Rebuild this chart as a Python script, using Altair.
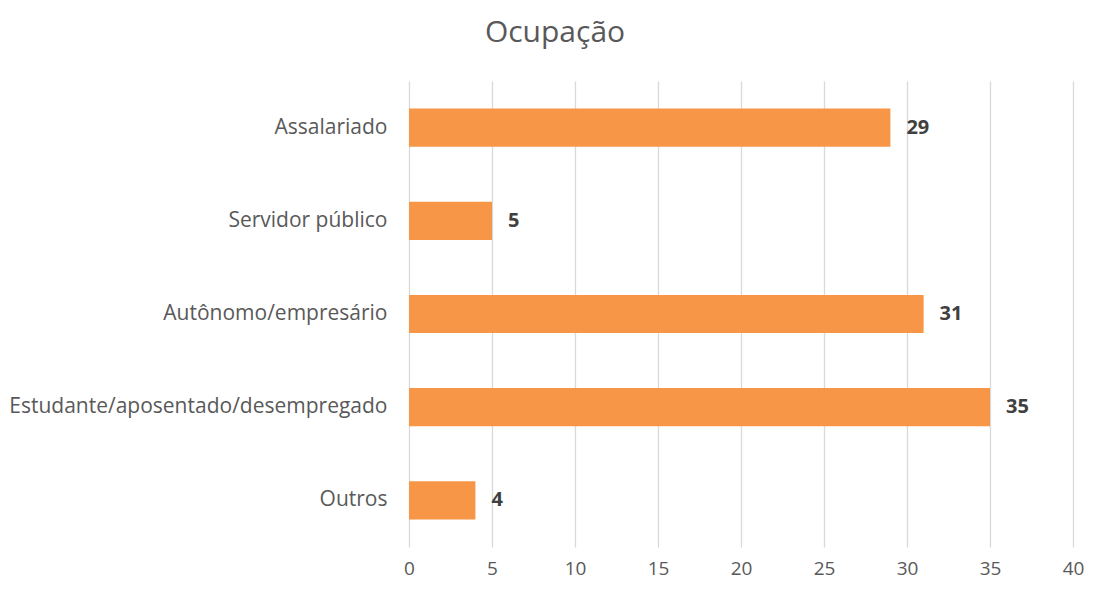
import altair as alt
import pandas as pd

categories = ["Assalariado", "Servidor público", "Autônomo/empresário",
              "Estudante/aposentado/desempregado", "Outros"]
values = [29, 5, 31, 35, 4]
x_ticks = [0, 5, 10, 15, 20, 25, 30, 35, 40]

df = pd.DataFrame({"cat": categories, "val": values})
FONT = "Open Sans"

base = alt.Chart(df).encode(
    y=alt.Y("cat:N", sort=categories, title=None,
            scale=alt.Scale(paddingInner=0.59, paddingOuter=0.295),
            axis=alt.Axis(domain=False, ticks=False, grid=False,
                          labelFont=FONT, labelFontSize=21, labelColor="#595959",
                          labelPadding=22, labelLimit=500)),
)

bars = base.mark_bar(color="#F79646").encode(
    x=alt.X("val:Q", title=None,
            scale=alt.Scale(domain=[0, 40], nice=False),
            axis=alt.Axis(values=x_ticks, domain=False, ticks=False, grid=True,
                          gridColor="#D9D9D9", gridWidth=1.3, labelFlush=False,
                          labelFont=FONT, labelFontSize=19, labelColor="#595959",
                          labelPadding=12))
)

labels = base.mark_text(align="left", baseline="middle", dx=16, font=FONT,
                        fontSize=20, fontWeight="bold", color="#404040").encode(
    x="val:Q", text="val:Q"
)

chart = (bars + labels).properties(
    width=664, height=466,
    padding={"left": 401, "top": 73, "right": 13, "bottom": 34},
    autosize=alt.AutoSizeParams(type="none"),
    title=alt.TitleParams("Ocupação", font=FONT, fontSize=30, fontWeight="normal",
                          color="#595959", anchor="middle", dx=-186, offset=33),
).configure_view(stroke=None)

chart.save("out.html", embed_options={"renderer": "svg", "actions": False})
